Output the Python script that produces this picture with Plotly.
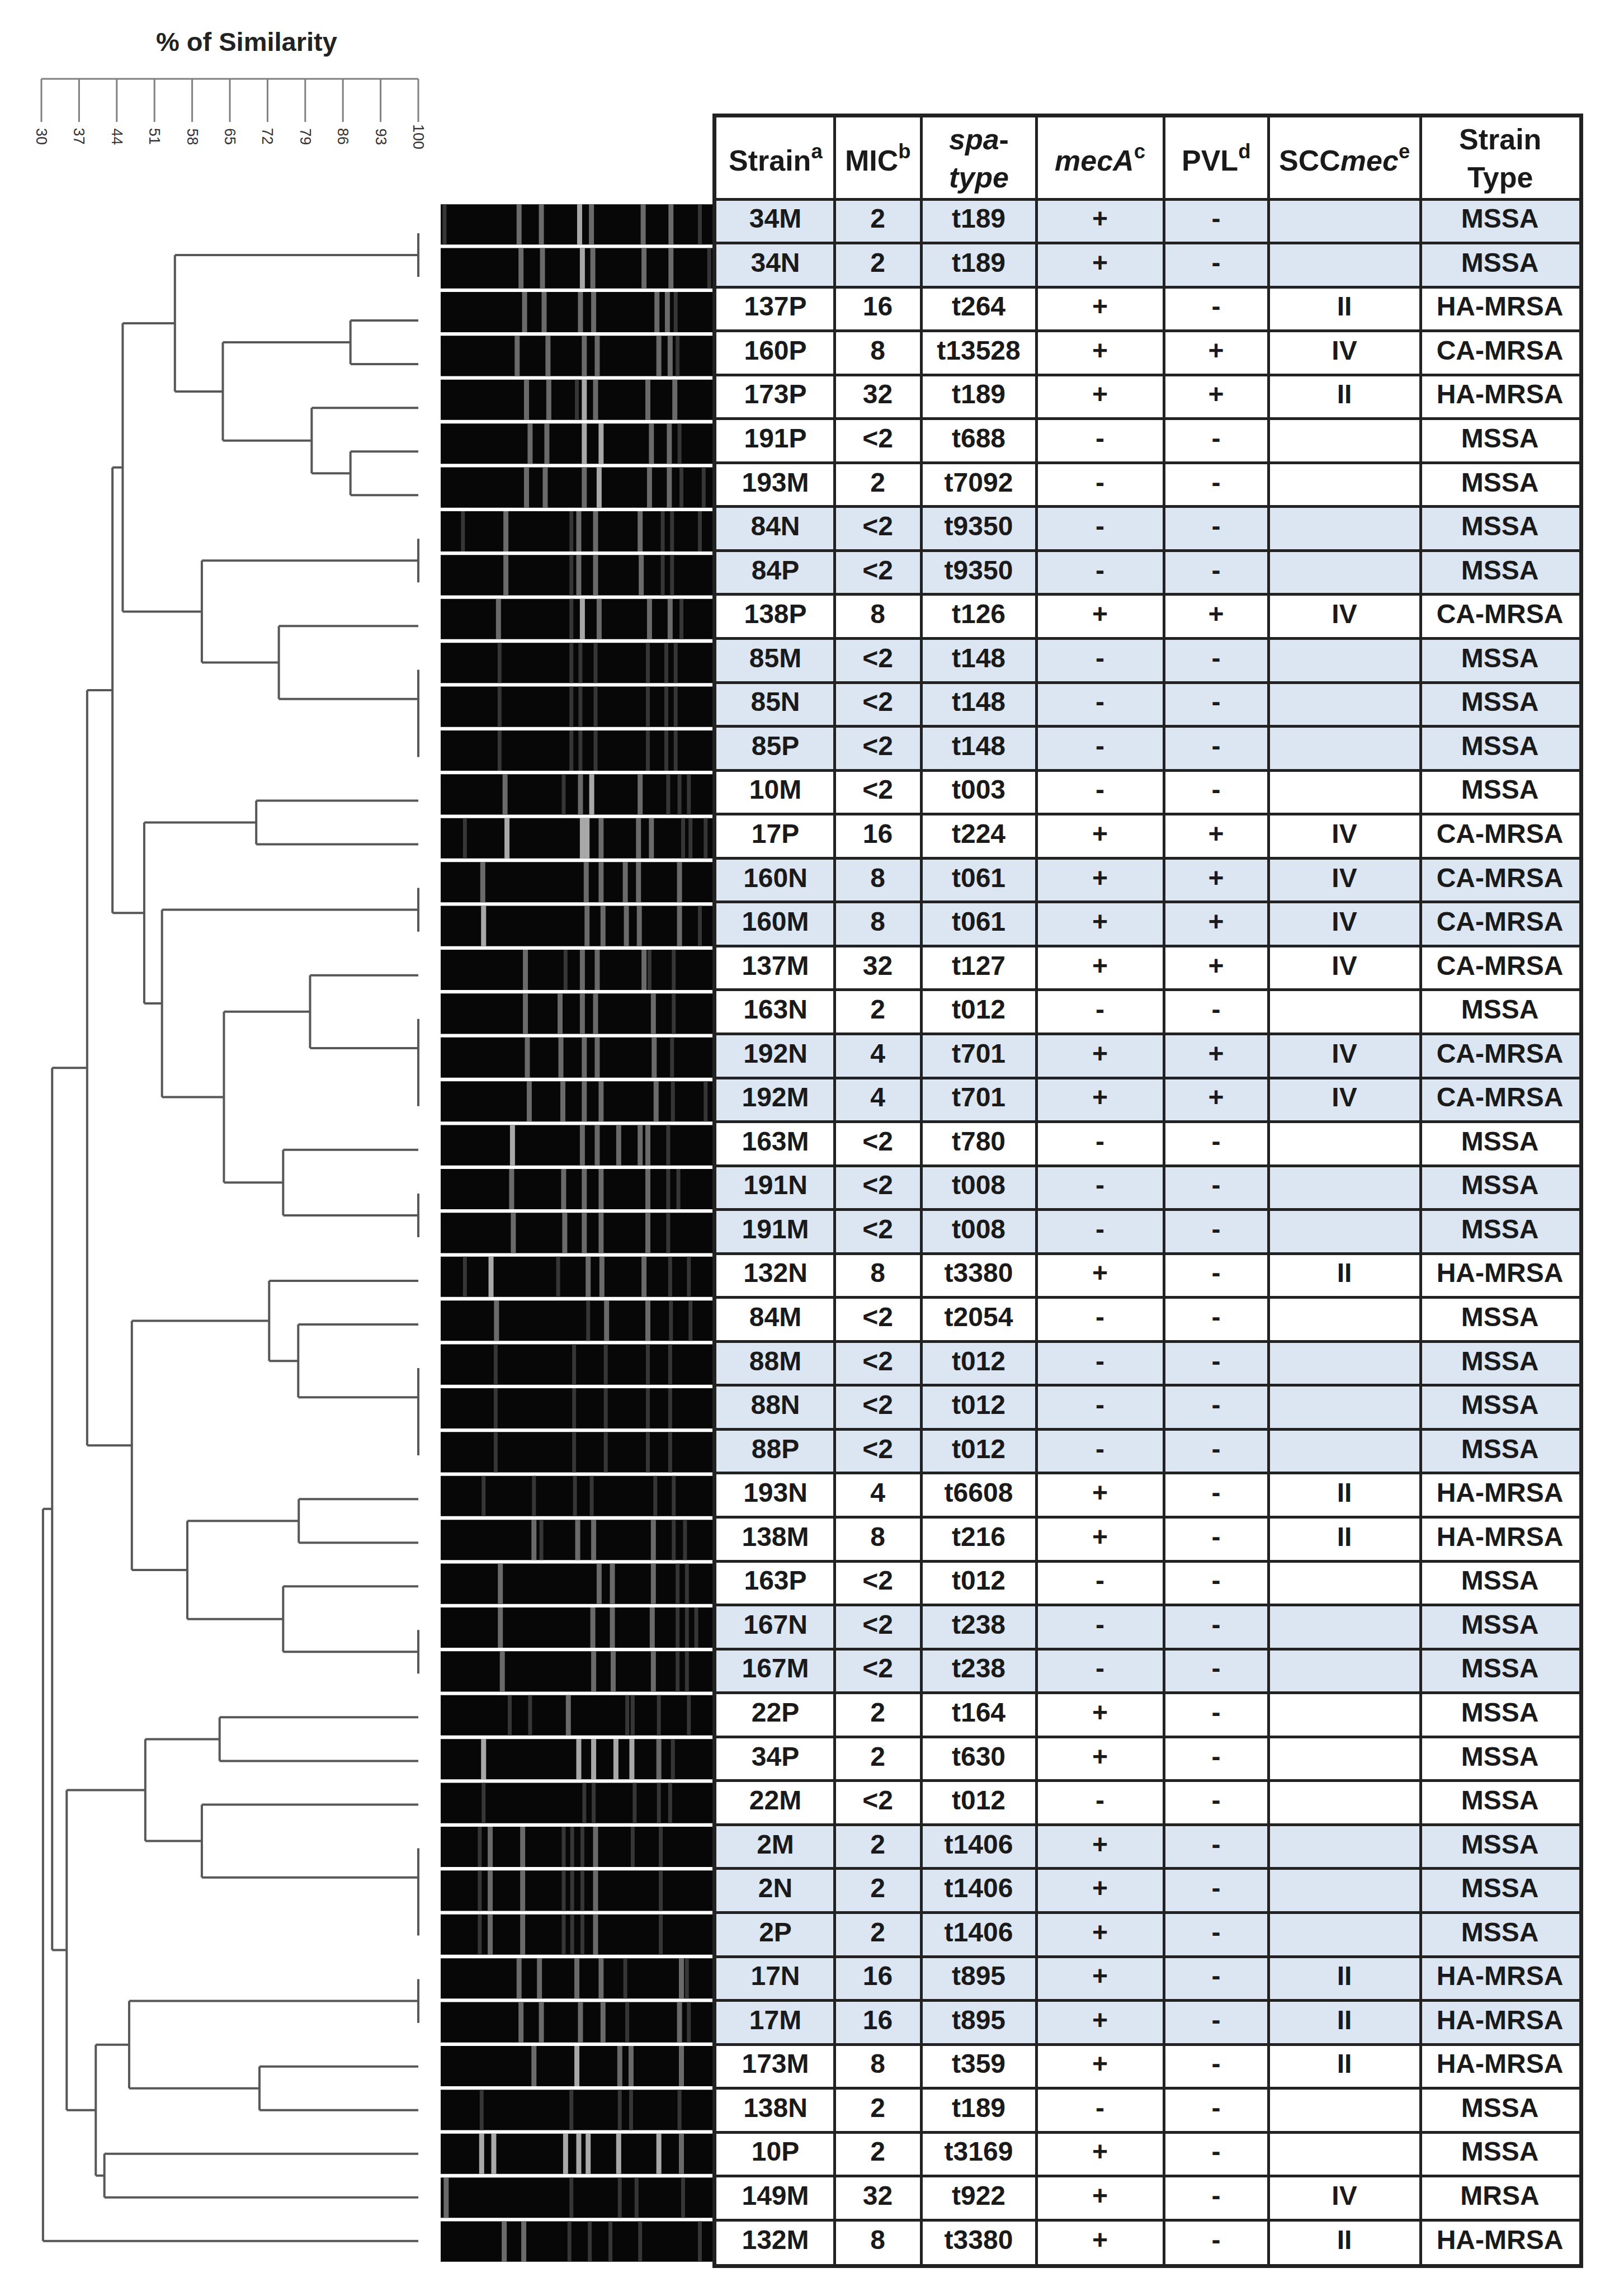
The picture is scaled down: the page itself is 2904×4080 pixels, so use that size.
import plotly.graph_objects as go

W, H = 2904, 4080
FONT = "Liberation Sans, Arial, sans-serif"

# =============================================================================
# Table data (one entry per PFGE lane, top to bottom)
# =============================================================================
strains = ["34M", "34N", "137P", "160P", "173P", "191P", "193M", "84N", "84P", "138P",
           "85M", "85N", "85P", "10M", "17P", "160N", "160M", "137M", "163N", "192N",
           "192M", "163M", "191N", "191M", "132N", "84M", "88M", "88N", "88P", "193N",
           "138M", "163P", "167N", "167M", "22P", "34P", "22M", "2M", "2N", "2P",
           "17N", "17M", "173M", "138N", "10P", "149M", "132M"]
mic = ["2", "2", "16", "8", "32", "<2", "2", "<2", "<2", "8",
       "<2", "<2", "<2", "<2", "16", "8", "8", "32", "2", "4",
       "4", "<2", "<2", "<2", "8", "<2", "<2", "<2", "<2", "4",
       "8", "<2", "<2", "<2", "2", "2", "<2", "2", "2", "2",
       "16", "16", "8", "2", "2", "32", "8"]
spa_type = ["t189", "t189", "t264", "t13528", "t189", "t688", "t7092", "t9350", "t9350", "t126",
            "t148", "t148", "t148", "t003", "t224", "t061", "t061", "t127", "t012", "t701",
            "t701", "t780", "t008", "t008", "t3380", "t2054", "t012", "t012", "t012", "t6608",
            "t216", "t012", "t238", "t238", "t164", "t630", "t012", "t1406", "t1406", "t1406",
            "t895", "t895", "t359", "t189", "t3169", "t922", "t3380"]
meca = ["+", "+", "+", "+", "+", "-", "-", "-", "-", "+",
        "-", "-", "-", "-", "+", "+", "+", "+", "-", "+",
        "+", "-", "-", "-", "+", "-", "-", "-", "-", "+",
        "+", "-", "-", "-", "+", "+", "-", "+", "+", "+",
        "+", "+", "+", "-", "+", "+", "+"]
pvl = ["-", "-", "-", "+", "+", "-", "-", "-", "-", "+",
       "-", "-", "-", "-", "+", "+", "+", "+", "-", "+",
       "+", "-", "-", "-", "-", "-", "-", "-", "-", "-",
       "-", "-", "-", "-", "-", "-", "-", "-", "-", "-",
       "-", "-", "-", "-", "-", "-", "-"]
sccmec = ["", "", "II", "IV", "II", "", "", "", "", "IV",
          "", "", "", "", "IV", "IV", "IV", "IV", "", "IV",
          "IV", "", "", "", "II", "", "", "", "", "II",
          "II", "", "", "", "", "", "", "", "", "",
          "II", "II", "II", "", "", "IV", "II"]
strain_type = ["MSSA", "MSSA", "HA-MRSA", "CA-MRSA", "HA-MRSA", "MSSA", "MSSA", "MSSA", "MSSA", "CA-MRSA",
               "MSSA", "MSSA", "MSSA", "MSSA", "CA-MRSA", "CA-MRSA", "CA-MRSA", "CA-MRSA", "MSSA", "CA-MRSA",
               "CA-MRSA", "MSSA", "MSSA", "MSSA", "HA-MRSA", "MSSA", "MSSA", "MSSA", "MSSA", "HA-MRSA",
               "HA-MRSA", "MSSA", "MSSA", "MSSA", "MSSA", "MSSA", "MSSA", "MSSA", "MSSA", "MSSA",
               "HA-MRSA", "HA-MRSA", "HA-MRSA", "MSSA", "MSSA", "MRSA", "HA-MRSA"]
shaded = ["34M", "34N", "84N", "84P", "85M", "85N", "85P", "160N", "160M", "192N", "192M",
          "191N", "191M", "88M", "88N", "88P", "167N", "167M", "2M", "2N", "2P", "17N", "17M"]

headers = ["Strain<sup>a</sup>", "MIC<sup>b</sup>", "<i>spa</i>-<br><i>type</i>",
           "<i>mecA</i><sup>c</sup>", "PVL<sup>d</sup>", "SCC<i>mec</i><sup>e</sup>",
           "Strain<br>Type"]

# =============================================================================
# Dendrogram data (% similarity)
# =============================================================================
scale_ticks = [30, 37, 44, 51, 58, 65, 72, 79, 86, 93, 100]

identical = {
    "G1": ["34M", "34N"], "G2": ["84N", "84P"], "G3": ["85M", "85N", "85P"],
    "G4": ["160N", "160M"], "G5": ["163N", "192N", "192M"], "G6": ["191N", "191M"],
    "G7": ["88M", "88N", "88P"], "G8": ["167N", "167M"], "G9": ["2M", "2N", "2P"],
    "G10": ["17N", "17M"],
}
merges = [  # (node, child, child, similarity)
    ("n1", "137P", "160P", 87.4), ("n2", "191P", "193M", 87.4), ("n3", "173P", "n2", 80.2),
    ("n4", "n1", "n3", 63.7), ("n5", "G1", "n4", 54.8), ("n6", "138P", "G3", 74.1),
    ("n7", "G2", "n6", 59.8), ("n8", "n5", "n7", 45.1), ("n9", "10M", "17P", 69.9),
    ("n10", "137M", "G5", 79.9), ("n11", "163M", "G6", 74.9), ("n12", "n10", "n11", 63.9),
    ("n13", "G4", "n12", 52.4), ("n14", "n9", "n13", 49.1), ("n15", "n8", "n14", 43.2),
    ("n16", "84M", "G7", 77.7), ("n17", "132N", "n16", 72.3), ("n18", "193N", "138M", 77.8),
    ("n19", "163P", "G8", 74.9), ("n20", "n18", "n19", 57.1), ("n21", "n17", "n20", 46.8),
    ("n22", "n15", "n21", 38.5), ("n23", "22P", "34P", 63.1), ("n24", "22M", "G9", 59.8),
    ("n25", "n23", "n24", 49.3), ("n26", "173M", "138N", 70.5), ("n27", "G10", "n26", 46.3),
    ("n28", "10P", "149M", 41.7), ("n29", "n27", "n28", 40.1), ("n30", "n25", "n29", 34.7),
    ("n31", "n22", "n30", 32.0), ("root", "n31", "132M", 30.3),
]

# =============================================================================
# PFGE bands: (position % of lane width, intensity 1=faint 2=medium 3=strong)
# =============================================================================
bands = {
    "34M": [(1.4, 1), (28.5, 2), (36.6, 2), (50.5, 3), (54.8, 2), (73.6, 2), (83.7, 2), (94.2, 1)],
    "34N": [(29.2, 2), (37.0, 2), (51.5, 3), (55.3, 2), (73.9, 2), (83.7, 2), (97.6, 1)],
    "137P": [(30.5, 2), (37.6, 2), (50.8, 2), (55.6, 2), (78.6, 2), (82.4, 2), (85.4, 1)],
    "160P": [(27.8, 2), (39.0, 2), (52.2, 2), (56.9, 2), (79.3, 2), (83.4, 2), (86.1, 1)],
    "173P": [(31.2, 2), (39.3, 2), (49.5, 1), (52.2, 3), (56.3, 2), (75.3, 2), (85.1, 2)],
    "191P": [(32.5, 2), (38.6, 2), (52.2, 3), (58.3, 3), (76.6, 2), (83.1, 2), (86.8, 1)],
    "193M": [(31.2, 2), (38.0, 2), (52.2, 2), (57.6, 3), (75.9, 2), (83.1, 2), (87.5, 1), (95.6, 1)],
    "84N": [(8.1, 1), (23.7, 2), (47.5, 1), (50.2, 2), (56.3, 2), (72.5, 2), (80.7, 1), (84.1, 1), (94.2, 1)],
    "84P": [(23.7, 2), (47.5, 1), (50.2, 2), (56.3, 2), (72.9, 2), (80.7, 1), (84.1, 1)],
    "138P": [(21.0, 2), (47.5, 1), (51.5, 3), (57.6, 2), (75.9, 2), (83.4, 2), (87.5, 1)],
    "85M": [(21.4, 1), (47.5, 1), (50.8, 1), (56.3, 1), (75.3, 1), (82.0, 1), (85.4, 1)],
    "85N": [(21.4, 1), (47.5, 1), (50.8, 1), (56.3, 1), (75.3, 1), (82.0, 1), (85.4, 1)],
    "85P": [(21.4, 1), (47.5, 1), (50.8, 1), (56.3, 1), (75.3, 1), (82.0, 1), (85.4, 1)],
    "10M": [(23.4, 2), (44.7, 1), (50.8, 2), (54.9, 3), (72.5, 2), (82.7, 1), (86.8, 1), (90.2, 1)],
    "17P": [(8.8, 1), (24.1, 3), (51.5, 3), (53.2, 3), (58.3, 2), (71.9, 2), (76.6, 2), (88.1, 1),
            (90.8, 1), (96.3, 1)],
    "160N": [(15.3, 2), (52.9, 2), (58.3, 2), (67.1, 2), (71.9, 2), (86.8, 2)],
    "160M": [(15.6, 3), (53.2, 2), (59.0, 2), (67.5, 2), (72.2, 2), (86.8, 2), (94.2, 1)],
    "137M": [(30.8, 2), (45.4, 1), (51.5, 2), (56.9, 2), (73.9, 2), (75.9, 1), (84.7, 1)],
    "163N": [(30.8, 2), (43.4, 2), (51.5, 2), (56.3, 2), (77.3, 2), (84.7, 1)],
    "192N": [(31.5, 2), (43.7, 2), (52.2, 2), (56.9, 2), (77.6, 2), (84.1, 1)],
    "192M": [(32.2, 2), (44.4, 2), (52.2, 2), (58.3, 2), (78.3, 2), (84.4, 1), (96.3, 1)],
    "163M": [(26.1, 3), (51.5, 2), (56.9, 2), (64.7, 2), (72.5, 2), (75.3, 2), (82.7, 1)],
    "191N": [(25.8, 2), (44.7, 2), (52.2, 2), (58.3, 2), (75.3, 2), (82.7, 1), (86.4, 1)],
    "191M": [(26.4, 2), (45.1, 2), (52.2, 2), (58.3, 2), (75.3, 2), (82.7, 1)],
    "132N": [(8.8, 1), (18.3, 3), (42.7, 1), (53.6, 2), (58.6, 2), (73.9, 2), (83.4, 1), (90.2, 1)],
    "84M": [(20.3, 2), (53.6, 1), (60.3, 2), (75.3, 2), (83.7, 1), (90.8, 1)],
    "88M": [(20.0, 1), (48.5, 1), (60.0, 1), (75.3, 1), (83.4, 1)],
    "88N": [(20.0, 1), (48.5, 1), (60.0, 1), (75.3, 1), (83.4, 1)],
    "88P": [(20.0, 1), (48.5, 1), (60.0, 1), (75.3, 1), (83.4, 1)],
    "193N": [(15.6, 1), (33.9, 1), (48.8, 1), (54.9, 1), (78.0, 1), (84.7, 1)],
    "138M": [(33.9, 2), (36.6, 1), (49.8, 2), (55.6, 2), (77.3, 2), (84.7, 1), (88.8, 1)],
    "163P": [(21.7, 2), (57.6, 2), (62.4, 2), (77.3, 2), (86.1, 1), (89.5, 1)],
    "167N": [(21.7, 2), (55.3, 2), (62.4, 2), (76.9, 2), (86.1, 1), (89.5, 1), (92.9, 1)],
    "167M": [(22.4, 2), (55.6, 2), (62.7, 2), (77.3, 2), (86.1, 1), (89.5, 1)],
    "22P": [(25.1, 1), (32.5, 1), (46.4, 2), (67.8, 1), (69.8, 1), (79.3, 1), (90.2, 1)],
    "34P": [(15.6, 3), (50.2, 3), (55.6, 3), (63.7, 3), (69.5, 3), (79.3, 2), (84.4, 1)],
    "22M": [(15.6, 1), (52.2, 1), (55.6, 1), (70.5, 1), (79.3, 1), (83.4, 1)],
    "2M": [(14.2, 1), (18.0, 2), (29.8, 2), (44.7, 1), (47.8, 1), (51.5, 1), (56.3, 2), (69.8, 1), (80.0, 1)],
    "2N": [(14.2, 1), (18.0, 2), (29.8, 2), (44.7, 1), (47.8, 1), (51.5, 1), (56.3, 2), (80.0, 1)],
    "2P": [(14.2, 1), (18.0, 2), (29.8, 2), (44.7, 1), (47.8, 1), (51.5, 1), (56.3, 2), (80.0, 1)],
    "17N": [(28.5, 2), (35.9, 2), (49.5, 2), (58.3, 2), (67.1, 1), (87.5, 2), (89.5, 1)],
    "17M": [(29.2, 2), (36.6, 2), (50.8, 2), (59.0, 2), (67.8, 1), (86.8, 2), (90.2, 1)],
    "173M": [(33.9, 2), (49.5, 3), (65.1, 2), (69.2, 2), (87.5, 2)],
    "138N": [(14.9, 1), (47.5, 1), (65.1, 1), (69.2, 1), (86.8, 1)],
    "10P": [(14.9, 3), (19.3, 3), (45.4, 3), (50.2, 3), (53.6, 3), (64.7, 3), (79.3, 3), (87.5, 2)],
    "149M": [(2.0, 2), (47.5, 1), (65.1, 1), (71.2, 1), (88.1, 1)],
    "132M": [(23.1, 2), (30.2, 2), (46.8, 1), (54.2, 1), (61.7, 1), (72.5, 1), (94.2, 1)],
}

# =============================================================================
# Page layout (pixels on the 2904 x 4080 page)
# =============================================================================
def xdom(p0, p1):
    return [p0 / W, p1 / W]


def ydom(top, bottom):
    return [1 - bottom / H, 1 - top / H]


n = len(strains)
row_of = {s: i for i, s in enumerate(strains)}

# dendrogram: 30% at x=66 px, 100% at x=740 px
PX_PCT = (740 - 66) / 70.0
def sim_px(s):
    return 66 + (s - 30) * PX_PCT

DEN_TOP, DEN_PITCH = 409, 78.04
GEL_L, GEL_R, GEL_TOP, GEL_PITCH = 780, 1272, 354, 78.4
TAB_L, TAB_HEAD_TOP, TAB_ROW_TOP, TAB_PITCH = 1273, 202, 348, 78.55
col_widths = [211, 155, 206, 228, 187, 272, 284]
head_rows = (TAB_ROW_TOP - TAB_HEAD_TOP) / TAB_PITCH

edges = [0]
for w in col_widths:
    edges.append(edges[-1] + w)
centers = [(a + b) / 2 for a, b in zip(edges[:-1], edges[1:])]

fig = go.Figure()

# =============================================================================
# Dendrogram
# =============================================================================
node_x = {s: 100.0 for s in strains}
node_y = {s: float(i) for i, s in enumerate(strains)}
seg_x, seg_y = [], []


def seg(x0, y0, x1, y1):
    seg_x.extend([x0, x1, None])
    seg_y.extend([y0, y1, None])


for g, members in identical.items():
    rows = [row_of[m] for m in members]
    seg(100, rows[0], 100, rows[-1])
    node_x[g] = 100.0
    node_y[g] = rows[0] + (0.5 if len(rows) == 2 else 0.67)

for name, a, b, s in merges:
    for c in (a, b):
        if node_x[c] != s:
            seg(s, node_y[c], node_x[c], node_y[c])
    seg(s, node_y[a], s, node_y[b])
    node_x[name] = s
    node_y[name] = (node_y[a] + node_y[b]) / 2

fig.add_trace(go.Scatter(x=seg_x, y=seg_y, mode="lines", line=dict(color="#575757", width=4),
                         xaxis="x", yaxis="y", hoverinfo="skip", showlegend=False))

# similarity scale at the top
sx, sy = [scale_ticks[0], scale_ticks[-1], None], [133, 133, None]
for t in scale_ticks:
    sx += [t, t, None]
    sy += [133, 210, None]
fig.add_trace(go.Scatter(x=sx, y=sy, mode="lines", line=dict(color="#808080", width=3),
                         xaxis="x", yaxis="y2", hoverinfo="skip", showlegend=False))

annotations = [dict(text="<b>% of Similarity</b>", x=68.1, y=66, xref="x", yref="y2",
                    showarrow=False, font=dict(family=FONT, size=47, color="#222222"))]
for t in scale_ticks:
    annotations.append(dict(text=str(t), x=t, y=236, xref="x", yref="y2", showarrow=False,
                            textangle=90, font=dict(family=FONT, size=27, color="#333333")))

# =============================================================================
# PFGE gel lanes
# =============================================================================
fig.add_trace(go.Bar(y=list(range(n)), x=[100] * n, base=0, orientation="h", width=0.92,
                     marker=dict(color="#070707", line=dict(width=0)),
                     xaxis="x2", yaxis="y3", hoverinfo="skip", showlegend=False))

band_style = {1: ("#363636", 7), 2: ("#6a6a6a", 9), 3: ("#a8a8a8", 9)}
for level, (color, lw) in band_style.items():
    bx, by = [], []
    for i, s in enumerate(strains):
        for pos, lev in bands[s]:
            if lev == level:
                bx += [pos, pos, None]
                by += [i - 0.46, i + 0.46, None]
    fig.add_trace(go.Scatter(x=bx, y=by, mode="lines", line=dict(color=color, width=lw),
                             xaxis="x2", yaxis="y3", hoverinfo="skip", showlegend=False))

# =============================================================================
# Table
# =============================================================================
shapes = []
for s in shaded:
    r = row_of[s]
    shapes.append(dict(type="rect", xref="x3", yref="y4", x0=edges[0], x1=edges[-1],
                       y0=r - 0.5, y1=r + 0.5, fillcolor="#dce6f2", line=dict(width=0),
                       layer="below"))

columns = [strains, mic, spa_type, meca, pvl, sccmec, strain_type]
for cx, values in zip(centers, columns):
    rows = [i for i, v in enumerate(values) if v]
    fig.add_trace(go.Scatter(x=[cx] * len(rows), y=rows, text=[values[i] for i in rows],
                             mode="text", textposition="middle center",
                             textfont=dict(family=FONT, size=48, color="#1a1a1a", weight="bold"),
                             xaxis="x3", yaxis="y4", hoverinfo="skip", showlegend=False))

head_y = -0.5 - head_rows / 2
for cx, h in zip(centers, headers):
    annotations.append(dict(text="<b>" + h + "</b>", x=cx, y=head_y, xref="x3", yref="y4",
                            showarrow=False, yanchor="middle",
                            font=dict(family=FONT, size=52, color="#1a1a1a")))

hidden = dict(visible=False, fixedrange=True)
grid = dict(showgrid=True, gridcolor="#222222", gridwidth=5, zeroline=False,
            showticklabels=False, ticks="", showline=True, mirror=True,
            linecolor="#222222", linewidth=7, fixedrange=True)

fig.update_layout(
    width=W, height=H,
    margin=dict(l=0, r=0, t=0, b=0),
    paper_bgcolor="white", plot_bgcolor="white",
    showlegend=False,
    xaxis=dict(hidden, domain=xdom(sim_px(29), sim_px(101)), range=[29, 101], anchor="y"),
    yaxis=dict(hidden, domain=ydom(DEN_TOP - DEN_PITCH / 2, DEN_TOP + DEN_PITCH * (n - 0.5)),
               range=[n - 0.5, -0.5], anchor="x"),
    yaxis2=dict(hidden, domain=ydom(0, 330), range=[330, 0], anchor="x"),
    xaxis2=dict(hidden, domain=xdom(GEL_L, GEL_R), range=[0, 100], anchor="y3"),
    yaxis3=dict(hidden, domain=ydom(GEL_TOP, GEL_TOP + GEL_PITCH * n),
                range=[n - 0.5, -0.5], anchor="x2"),
    xaxis3=dict(grid, domain=xdom(TAB_L, TAB_L + edges[-1]), range=[edges[0], edges[-1]],
                tickvals=edges[1:-1], anchor="y4"),
    yaxis4=dict(grid, domain=ydom(TAB_HEAD_TOP, TAB_ROW_TOP + TAB_PITCH * n),
                range=[n - 0.5, -0.5 - head_rows], tickvals=[r - 0.5 for r in range(n)],
                anchor="x3"),
    shapes=shapes,
    annotations=annotations,
)

fig.write_html("out.html")
